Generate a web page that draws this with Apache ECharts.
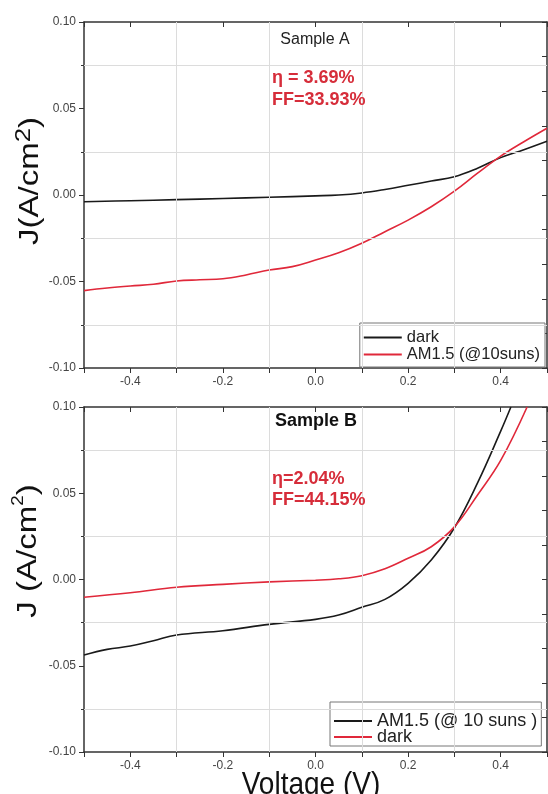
<!DOCTYPE html>
<html><head><meta charset="utf-8">
<script src="https://cdn.jsdelivr.net/npm/echarts@6/dist/echarts.min.js"></script>
<style>html,body{margin:0;padding:0;background:#fff}#c{width:548px;height:794px}</style>
</head><body><div id="c"></div><script>
// ---- Data ----
// Panel A (top)
const aDarkV = [-0.5,-0.4,-0.3,-0.2,-0.1,0.0,0.05,0.1,0.15,0.2,0.25,0.3,0.35,0.4,0.45,0.5];
const aDarkJ = [-0.0039,-0.0033,-0.0027,-0.0020,-0.0013,-0.0005,0.0000,0.0012,0.0032,0.0056,0.0081,0.0106,0.0155,0.0216,0.0262,0.0310];
const aLightV = [-0.5,-0.45,-0.4,-0.35,-0.3,-0.25,-0.2,-0.15,-0.1,-0.05,0.0,0.05,0.1,0.15,0.2,0.25,0.3,0.35,0.4,0.45,0.5];
const aLightJ = [-0.0553,-0.0538,-0.0526,-0.0516,-0.0497,-0.0490,-0.0484,-0.0462,-0.0434,-0.0414,-0.0376,-0.0334,-0.0279,-0.0212,-0.0145,-0.0068,0.0022,0.0126,0.0225,0.0308,0.0386];
// Panel B (bottom)
const bLightV = [-0.5,-0.45,-0.4,-0.35,-0.3,-0.2,-0.1,0.0,0.05,0.1,0.15,0.2,0.25,0.3,0.35,0.4,0.422];
const bLightJ = [-0.0438,-0.0405,-0.0386,-0.0355,-0.0322,-0.0297,-0.0260,-0.0231,-0.0206,-0.0161,-0.0115,-0.0022,0.0113,0.0300,0.0560,0.0860,0.1000];
const bDarkV = [-0.5,-0.4,-0.3,-0.2,-0.1,0.0,0.05,0.1,0.15,0.2,0.25,0.3,0.35,0.4,0.457];
const bDarkJ = [-0.0103,-0.0077,-0.0045,-0.0028,-0.0014,-0.0004,0.0004,0.0022,0.0062,0.0123,0.0190,0.0305,0.0490,0.0690,0.1000];

const xLabelValues = [-0.4,-0.2,0.0,0.2,0.4];
const xGridValues = [-0.3,-0.1,0.1,0.3];
const yGridValues = [-0.075,-0.025,0.025,0.075];

const nameA_dark = 'dark', nameA_light = 'AM1.5 (@10suns)';
const nameB_light = 'AM1.5 (@ 10 suns )', nameB_dark = 'dark_B';

// ---- Styling ----
const FONT = '"Liberation Sans", Arial, sans-serif';
const AX = '#333';
const RED = '#e0283a';
const BLACK = '#1a1a1a';
const TXTRED = '#d62d3a';

function zip(v, j){ return v.map((x,i)=>[x, j[i]]); }

function xAxes(g){
  return [
    {type:'value', gridIndex:g, position:'bottom', min:-0.5, max:0.5, interval:0.1,
     axisLine:{show:true,onZero:false,lineStyle:{color:AX,width:1.5}},
     axisTick:{show:true,inside:false,length:5,lineStyle:{color:AX,width:1}},
     axisLabel:{show:true,margin:8,fontSize:12,color:'#444',fontFamily:FONT,
       formatter:v=> xLabelValues.some(t=>Math.abs(t-v)<1e-6) ? v.toFixed(1) : ''},
     splitLine:{show:false}},
    {type:'value', gridIndex:g, position:'top', min:-0.5, max:0.5, interval:0.1,
     axisLine:{show:true,onZero:false,lineStyle:{color:AX,width:1.5}},
     axisTick:{show:true,inside:true,length:5,lineStyle:{color:AX,width:1}},
     axisLabel:{show:false}, splitLine:{show:false}}
  ];
}
function yAxes(g){
  return [
    {type:'value', gridIndex:g, position:'left', min:-0.1, max:0.1, interval:0.05,
     axisLine:{show:true,onZero:false,lineStyle:{color:AX,width:1.5}},
     axisTick:{show:true,inside:false,length:5,lineStyle:{color:AX,width:1}},
     minorTick:{show:true,splitNumber:2,length:3,lineStyle:{color:AX,width:1}},
     axisLabel:{show:true,margin:8,fontSize:12,color:'#444',fontFamily:FONT,formatter:v=>v.toFixed(2)},
     splitLine:{show:false}},
    {type:'value', gridIndex:g, position:'right', min:-0.1, max:0.1, interval:0.02,
     axisLine:{show:true,onZero:false,lineStyle:{color:AX,width:1.5}},
     axisTick:{show:true,inside:true,length:5,lineStyle:{color:AX,width:1}},
     axisLabel:{show:false}, splitLine:{show:false}}
  ];
}
function gridHelper(g, v, j){
  return {type:'line', name:'grid'+g, xAxisIndex:g*2, yAxisIndex:g*2, data:zip(v,j), z:1,
    symbol:'none', silent:true, lineStyle:{opacity:0},
    markLine:{silent:true, precision:4, symbol:['none','none'], label:{show:false}, animation:false,
      lineStyle:{color:'#dcdcdc',width:1,type:'solid'},
      emphasis:{disabled:true},
      data:[...xGridValues.map(x=>({xAxis:x})), ...yGridValues.map(y=>({yAxis:y}))]}};
}
function curve(name, g, v, j, color){
  return {type:'line', name, xAxisIndex:g*2, yAxisIndex:g*2, data:zip(v,j), z:3,
    symbol:'none', showSymbol:false, smooth:0.4,
    lineStyle:{color, width:1.6}, itemStyle:{color}};
}

const legendCommon = {orient:'vertical', selectedMode:false, icon:'rect', itemWidth:38, itemHeight:2, itemGap:0,
  backgroundColor:'#fff', borderColor:'#777', borderWidth:1, borderRadius:0,
  textStyle:{fontSize:16.5, color:'#222', fontFamily:FONT, lineHeight:16}};

const chart = echarts.init(document.getElementById('c'), null, {renderer:'canvas'});
chart.setOption({
  animation:false,
  backgroundColor:'#fff',
  grid:[
    {left:84, top:22, width:463, height:346, outerBoundsMode:'none'},
    {left:84, top:407, width:463, height:345, outerBoundsMode:'none'}
  ],
  xAxis:[...xAxes(0), ...xAxes(1)],
  yAxis:[...yAxes(0), ...yAxes(1)],
  legend:[
    Object.assign({}, legendCommon, {data:[nameA_dark, nameA_light], right:3, top:323, padding:[6,5,4,4]}),
    Object.assign({}, legendCommon, {data:[nameB_light, nameB_dark], left:330, top:702, padding:[10,4,0,4], itemGap:-2,
      textStyle:Object.assign({}, legendCommon.textStyle, {fontSize:18, lineHeight:15}),
      formatter:n=> n===nameB_dark ? 'dark' : n})
  ],
  series:[
    gridHelper(0, aDarkV, aDarkJ),
    gridHelper(1, bDarkV, bDarkJ),
    curve(nameA_dark, 0, aDarkV, aDarkJ, BLACK),
    curve(nameA_light, 0, aLightV, aLightJ, RED),
    curve(nameB_light, 1, bLightV, bLightJ, BLACK),
    curve(nameB_dark, 1, bDarkV, bDarkJ, RED)
  ],
  graphic:[
    {type:'text', z:100, x:315, y:40, style:{text:'Sample A', fontSize:16, fontFamily:FONT, fill:'#222', align:'center', verticalAlign:'middle'}},
    {type:'text', z:100, x:272, y:78, style:{text:'η = 3.69%', fontSize:18, fontWeight:'bold', fontFamily:FONT, fill:TXTRED, align:'left', verticalAlign:'middle'}},
    {type:'text', z:100, x:272, y:100, style:{text:'FF=33.93%', fontSize:18, fontWeight:'bold', fontFamily:FONT, fill:TXTRED, align:'left', verticalAlign:'middle'}},
    {type:'text', z:100, x:316, y:421, style:{text:'Sample B', fontSize:18, fontWeight:'bold', fontFamily:FONT, fill:'#111', align:'center', verticalAlign:'middle'}},
    {type:'text', z:100, x:272, y:479, style:{text:'η=2.04%', fontSize:18, fontWeight:'bold', fontFamily:FONT, fill:TXTRED, align:'left', verticalAlign:'middle'}},
    {type:'text', z:100, x:272, y:500, style:{text:'FF=44.15%', fontSize:18, fontWeight:'bold', fontFamily:FONT, fill:TXTRED, align:'left', verticalAlign:'middle'}},
    {type:'text', z:100, x:30, y:181, rotation:Math.PI/2, scaleX:1.18,
     style:{text:'J(A/cm{s|2})', fontSize:28, lineHeight:34, fontFamily:FONT, fill:'#111', align:'center', verticalAlign:'middle',
       rich:{s:{fontSize:22, lineHeight:22, verticalAlign:'top', fontFamily:FONT, fill:'#111'}}}},
    {type:'text', z:100, x:28, y:551, rotation:Math.PI/2, scaleX:1.18,
     style:{text:'J (A/cm{s|2})', fontSize:28, lineHeight:34, fontFamily:FONT, fill:'#111', align:'center', verticalAlign:'middle',
       rich:{s:{fontSize:16, lineHeight:16, verticalAlign:'top', fontFamily:FONT, fill:'#111'}}}},
    {type:'text', z:100, x:311, y:785, scaleY:1.15,
     style:{text:'Voltage (V)', fontSize:28, fontFamily:FONT, fill:'#111', align:'center', verticalAlign:'middle'}}
  ]
});
</script></body></html>
